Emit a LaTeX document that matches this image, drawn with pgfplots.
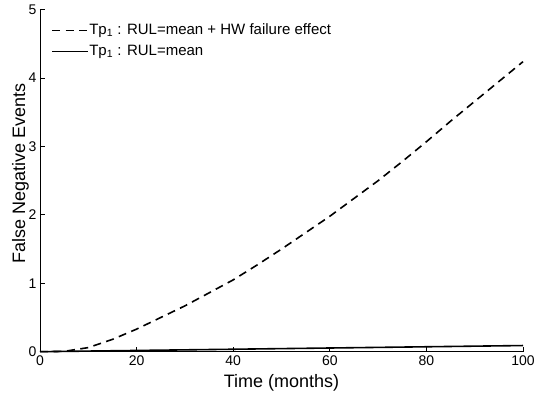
\documentclass[border=0pt]{standalone}
\usepackage{pgfplots}
\pgfplotsset{compat=1.18}
\usepackage{fontspec}
\setmainfont{Liberation Sans}
\begin{document}
\begin{tikzpicture}
\begin{axis}[
  name=ax,
  scale only axis, width=483pt, height=342pt,
  xmin=0, xmax=100, ymin=0, ymax=5,
  axis x line*=bottom, axis y line*=left,
  axis line style={line width=0.8pt, black},
  tick align=inside, major tick length=5pt,
  xtick={0,20,...,100}, ytick={0,1,...,5},
  tick style={line width=0.8pt, black},
  ticklabel style={font=\fontsize{14}{16}\selectfont},
  /pgf/number format/assume math mode=true,
  xlabel={Time (months)}, ylabel={False Negative Events},
  label style={font=\fontsize{18}{21}\selectfont},
  xlabel style={at={(axis description cs:0.5,-0.104)}, anchor=base},
  ylabel style={at={(axis description cs:-0.031,0.52)}, anchor=base},
  clip=false,
  legend style={at={(axis description cs:0.0228,0.9614)}, anchor=north west,
    draw=none, fill=none, inner sep=0pt, row sep=6pt,
    font=\fontsize{15}{17}\selectfont,
    nodes={inner sep=0.5pt, text height=10.5pt, text depth=3.5pt}},
  legend cell align=left,
  every axis plot post/.append style={legend image code/.code={\draw[##1, line width=1.6pt] (0pt,0pt) -- (36pt,0pt);}},
]
\addplot[black, line width=1.6pt, dash pattern=on 8pt off 5.5pt] coordinates {
(0,0) (5,0.005) (10,0.06) (15,0.18) (20,0.33) (25,0.5) (30,0.67) (35,0.86)
(40,1.05) (45,1.27) (50,1.5) (55,1.74) (60,1.98) (65,2.24) (70,2.5)
(75,2.78) (80,3.07) (85,3.37) (90,3.66) (95,3.95) (100,4.24)};
\addlegendentry{Tp\textsubscript{1} : RUL=mean + HW failure effect}
\addplot[black, line width=1.6pt] coordinates {
(0,0) (20,0.018) (40,0.036) (60,0.054) (80,0.072) (100,0.09)};
\addlegendentry{Tp\textsubscript{1} : RUL=mean}
\end{axis}
\pgfresetboundingbox
\path[use as bounding box] ([shift={(-40pt,-46.3pt)}]ax.south west) rectangle ([shift={(15pt,9.7pt)}]ax.north east);
\end{tikzpicture}
\end{document}
